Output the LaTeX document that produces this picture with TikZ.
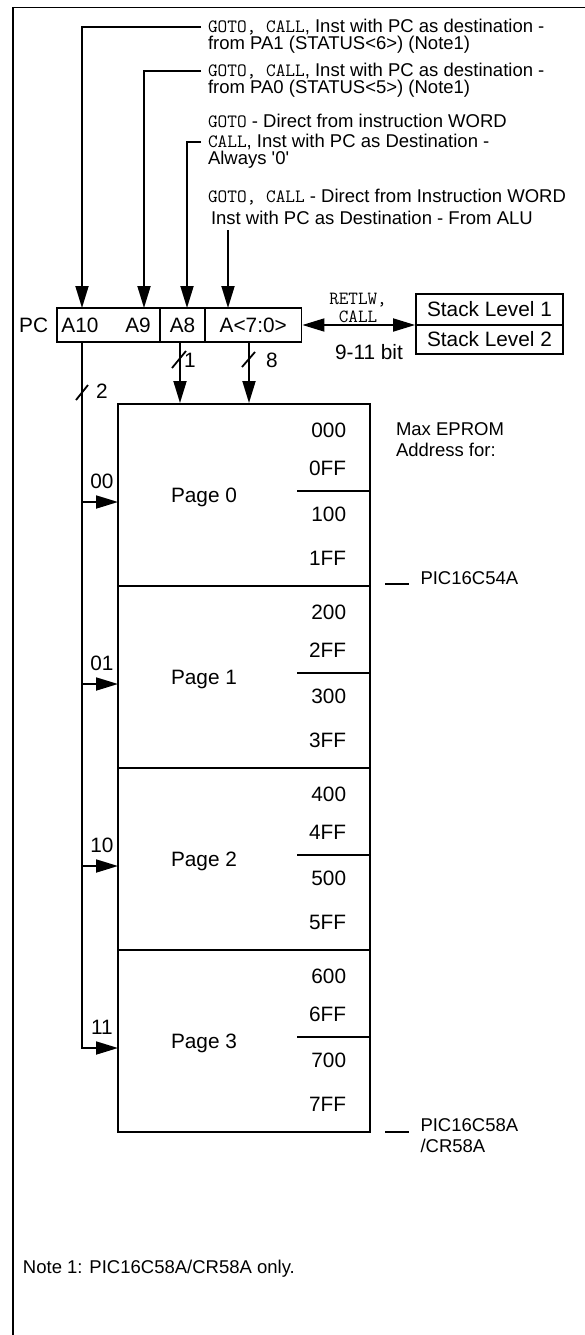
\documentclass[tikz,border=0pt]{standalone}
\usepackage{fontspec}
\setmainfont{Liberation Sans}
\usetikzlibrary{calc, arrows.meta, positioning}
\newcommand{\instr}[1]{{\ttfamily\fontsize{18.8}{20}\selectfont #1}}

\begin{document}
\begin{tikzpicture}[x=1pt, y=-1pt, line width=1.8pt, >={Triangle[length=22pt,width=13pt]},
    every node/.style={inner sep=0pt, font=\fontsize{20.8}{24}\selectfont},
    regbox/.style={draw, minimum height=34pt},
    pagebox/.style={draw, minimum width=252pt, minimum height=182pt},
    desc/.style={anchor=west, outer xsep=7pt, font=\fontsize{18.5}{21}\selectfont},
    addr/.style={anchor=east}]
            \useasboundingbox (0,0) rectangle (585,1335);
            \draw (13,1335) -- (13,7.5) -- (585,7.5);

            \node[desc] (t1a) at (201,27) {\instr{GOTO, CALL}, Inst with PC as destination -};
            \node[desc] (t1b) at (201,45) {from PA1 (STATUS<6>) (Note1)};
            \node[desc] (t2a) at (201,71) {\instr{GOTO, CALL}, Inst with PC as destination -};
            \node[desc] (t2b) at (201,89) {from PA0 (STATUS<5>) (Note1)};
            \node[desc] (t3a) at (201,121) {\instr{GOTO} - Direct from instruction WORD};
            \node[desc] (t3b) at (201,142) {\instr{CALL}, Inst with PC as Destination -};
            \node[desc] (t3c) at (201,160) {Always \textquotesingle 0\textquotesingle};
            \node[desc] (t4a) at (201,197) {\instr{GOTO, CALL} - Direct from Instruction WORD};
            \node[desc] (t4b) at (204,218) {Inst with PC as Destination - From ALU};

            \node (pc) at (33.6,325) {PC};
            \node[regbox, minimum width=103pt] (f1) at (108.5,325) {};
            \node[regbox, minimum width=45pt] (f2) at (182.5,325) {A8};
            \node[regbox, minimum width=96.5pt] (f3) at (253.25,325) {A<7:0>};
            \node (a10) at (80,325) {A10};
            \node (a9) at (138,325) {A9};

            \coordinate (p10) at (82,308);
            \coordinate (p9) at (144,308);
            \coordinate (p8) at (187,308);
            \coordinate (p7) at (228,308);
            \coordinate (alu) at (228,230);
            \draw[->] (t1a.west) -| (p10);
            \draw[->] (t2a.west) -| (p9);
            \draw[->] (t3b.west) -| (p8);
            \draw[->] (alu) -- (p7);

            \node[draw, minimum width=147pt, minimum height=31pt] (s1) at (489.5,309.5) {Stack Level 1};
            \node[draw, minimum width=147pt, minimum height=29pt] (s2) at (489.5,339.5) {Stack Level 2};
            \draw[<->] (f3.east) -- (f3.east -| s1.west);
            \node[font=\ttfamily\fontsize{18.6}{18}\selectfont, align=center] (rc) at (358,308) {RETLW,\\CALL};
            \node (nb) at (369,352) {9-11 bit};

            \node[pagebox] (pg0) at (244,495) {};
            \node[pagebox] (pg1) at (244,677) {};
            \node[pagebox] (pg2) at (244,859) {};
            \node[pagebox] (pg3) at (244,1041) {};
            \node (lb0) at (204,497) {Page 0};
            \node (lb1) at (204,679) {Page 1};
            \node (lb2) at (204,861) {Page 2};
            \node (lb3) at (204,1043) {Page 3};
            \draw ([yshift=4pt]pg0.east) -- ++(-74,0);
            \draw ([yshift=4pt]pg1.east) -- ++(-74,0);
            \draw ([yshift=4pt]pg2.east) -- ++(-74,0);
            \draw ([yshift=4pt]pg3.east) -- ++(-74,0);

            \node[addr] (ad00) at (347,430) {000};
            \node[addr] (ad01) at (347,468) {0FF};
            \node[addr] (ad02) at (347,514) {100};
            \node[addr] (ad03) at (347,558) {1FF};
            \node[addr] (ad10) at (347,612) {200};
            \node[addr] (ad11) at (347,650) {2FF};
            \node[addr] (ad12) at (347,696) {300};
            \node[addr] (ad13) at (347,740) {3FF};
            \node[addr] (ad20) at (347,794) {400};
            \node[addr] (ad21) at (347,832) {4FF};
            \node[addr] (ad22) at (347,878) {500};
            \node[addr] (ad23) at (347,922) {5FF};
            \node[addr] (ad30) at (347,976) {600};
            \node[addr] (ad31) at (347,1014) {6FF};
            \node[addr] (ad32) at (347,1060) {700};
            \node[addr] (ad33) at (347,1104) {7FF};

            \coordinate (e0) at (118,502);
            \coordinate (e1) at (118,684);
            \coordinate (e2) at (118,866);
            \coordinate (e3) at (118,1048);
            \draw[->] (p10 |- f1.south) |- (e3);
            \draw[->] (e0 -| p10) -- (e0);
            \draw[->] (e1 -| p10) -- (e1);
            \draw[->] (e2 -| p10) -- (e2);
            \node (n00) at (102,481) {00};
            \node (n01) at (102,663) {01};
            \node (n10) at (102,845) {10};
            \node (n11) at (102,1027) {11};

            \coordinate (b8) at (180,403);
            \coordinate (b7) at (249,403);
            \draw[->] (b8 |- f2.south) -- (b8);
            \draw[->] (b7 |- f3.south) -- (b7);
            \draw (76,400) -- (88,385);
            \draw (172,368) -- (186,351);
            \draw (242,367) -- (255,352);
            \node (w2) at (102,391) {2};
            \node (w1) at (190,360) {1};
            \node (w8) at (272,360) {8};

            \node[desc, align=left, outer xsep=0pt] (mx) at (396,439.5) {Max EPROM\\Address for:};
            \node[desc, outer xsep=0pt] (c54) at (420.5,578) {PIC16C54A};
            \draw (385,584) -- (409,584);
            \node[desc, align=left, outer xsep=0pt] (c58) at (420.5,1136) {PIC16C58A\\/CR58A};
            \draw (385,1132) -- (409,1132);
            \node[desc, outer xsep=0pt] (nt) at (23,1269) {Note 1: PIC16C58A/CR58A only.};
        \end{tikzpicture}
\end{document}
